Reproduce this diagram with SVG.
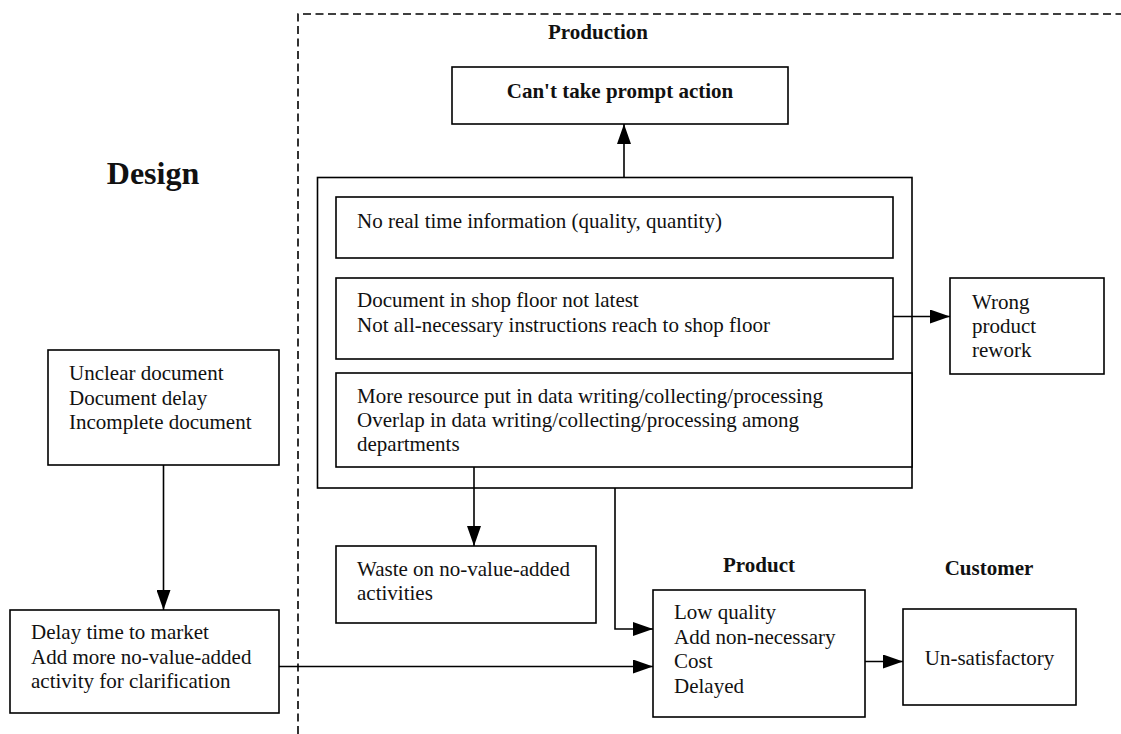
<svg xmlns="http://www.w3.org/2000/svg" width="1121" height="734" viewBox="0 0 1121 734">
  <defs>
    <marker id="arrow" viewBox="0 0 20 14" refX="20" refY="7" markerWidth="20" markerHeight="14" markerUnits="userSpaceOnUse" orient="auto">
      <path d="M0,0 L20,7 L0,14 Z" fill="#000"/>
    </marker>
    <style>
      .box { fill: #fff; stroke: #000; stroke-width: 1.6; }
      .frame { fill: none; stroke: #000; stroke-width: 1.6; }
      .t { font-family: "Liberation Serif", "Times New Roman", serif; font-size: 21px; fill: #111; }
      .b { font-family: "Liberation Serif", "Times New Roman", serif; font-size: 21px; font-weight: bold; fill: #111; }
      .title { font-family: "Liberation Serif", "Times New Roman", serif; font-size: 32px; font-weight: bold; fill: #111; }
      .edge { fill: none; stroke: #000; stroke-width: 1.6; marker-end: url(#arrow); }
      .boundary { fill: none; stroke: #000; stroke-width: 1.6; stroke-dasharray: 8 4.5; }
    </style>
  </defs>

  <rect width="1121" height="734" fill="#fff"/>

  <!-- production area boundary -->
  <path class="boundary" d="M298,734 L298,14 L1121,14"/>

  <!-- area labels -->
  <text class="title" x="153" y="184" text-anchor="middle">Design</text>
  <text class="b" x="598" y="39" text-anchor="middle">Production</text>
  <text class="b" x="759" y="572" text-anchor="middle">Product</text>
  <text class="b" x="989" y="575" text-anchor="middle">Customer</text>

  <g id="prompt-action">
    <rect class="box" x="452" y="67" width="336" height="57"/>
    <text class="b" x="620" y="98" text-anchor="middle">Can't take prompt action</text>
  </g>

  <g id="production-issues">
    <rect class="frame" x="317.5" y="177.5" width="594.5" height="310.5"/>
  </g>

  <g id="no-realtime-info">
    <rect class="box" x="336" y="197" width="557" height="61"/>
    <text class="t" x="357" y="228">No real time information (quality, quantity)</text>
  </g>

  <g id="document-not-latest">
    <rect class="box" x="336" y="278" width="557" height="81"/>
    <text class="t" x="357" y="307">Document in shop floor not latest</text>
    <text class="t" x="357" y="331.5">Not all-necessary instructions reach to shop floor</text>
  </g>

  <g id="data-overlap">
    <rect class="box" x="336" y="373" width="576" height="94"/>
    <text class="t" x="357" y="403">More resource put in data writing/collecting/processing</text>
    <text class="t" x="357" y="427">Overlap in data writing/collecting/processing among</text>
    <text class="t" x="357" y="451">departments</text>
  </g>

  <g id="wrong-product">
    <rect class="box" x="950" y="278" width="154" height="96"/>
    <text class="t" x="972" y="309">Wrong</text>
    <text class="t" x="972" y="333">product</text>
    <text class="t" x="972" y="357">rework</text>
  </g>

  <g id="unclear-document">
    <rect class="box" x="48" y="350" width="231" height="115"/>
    <text class="t" x="69" y="380">Unclear document</text>
    <text class="t" x="69" y="405">Document delay</text>
    <text class="t" x="69" y="429">Incomplete document</text>
  </g>

  <g id="delay-to-market">
    <rect class="box" x="10" y="610" width="269" height="103"/>
    <text class="t" x="31" y="639">Delay time to market</text>
    <text class="t" x="31" y="663.5">Add more no-value-added</text>
    <text class="t" x="31" y="688">activity for clarification</text>
  </g>

  <g id="waste">
    <rect class="box" x="336" y="546" width="260" height="77"/>
    <text class="t" x="357" y="576">Waste on no-value-added</text>
    <text class="t" x="357" y="600">activities</text>
  </g>

  <g id="product-effects">
    <rect class="box" x="653" y="590" width="212" height="127"/>
    <text class="t" x="674" y="619">Low quality</text>
    <text class="t" x="674" y="643.5">Add non-necessary</text>
    <text class="t" x="674" y="668">Cost</text>
    <text class="t" x="674" y="692.5">Delayed</text>
  </g>

  <g id="unsatisfactory">
    <rect class="box" x="903" y="609" width="173" height="96"/>
    <text class="t" x="989.5" y="665" text-anchor="middle">Un-satisfactory</text>
  </g>

  <g id="connectors">
    <path class="edge" d="M624,177.5 L624,124"/>
    <path class="edge" d="M893,316.5 L950,316.5"/>
    <path class="edge" d="M163.5,465 L163.5,610"/>
    <path class="edge" d="M474,467 L474,546"/>
    <path class="edge" d="M615,488 L615,629 L653,629"/>
    <path class="edge" d="M279,666.5 L653,666.5"/>
    <path class="edge" d="M865,661.5 L903,661.5"/>
  </g>
</svg>
